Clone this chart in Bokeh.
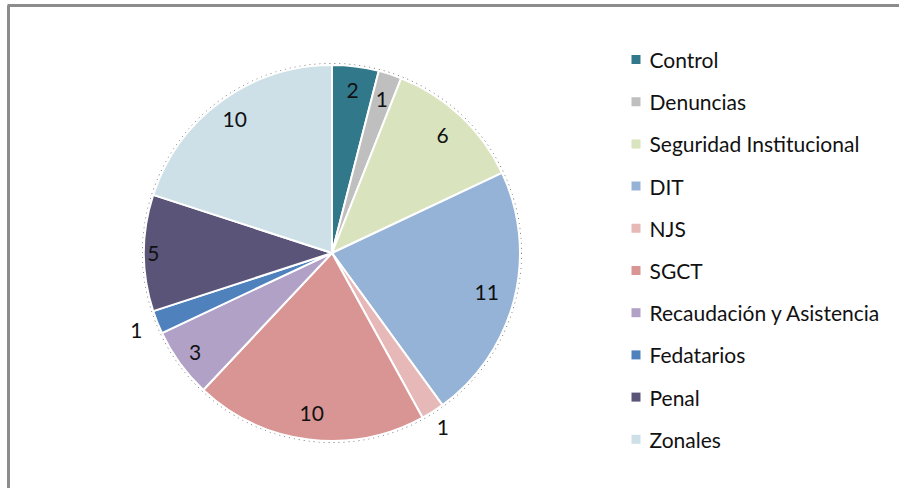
import numpy as np
from bokeh.plotting import figure
from bokeh.models import Range1d, ColumnDataSource
from bokeh.core.properties import value
from bokeh.embed import file_html
from bokeh.resources import INLINE

categories = ["Control", "Denuncias", "Seguridad Institucional", "DIT", "NJS",
              "SGCT", "Recaudación y Asistencia", "Fedatarios", "Penal", "Zonales"]
counts = [2, 1, 6, 11, 1, 10, 3, 1, 5, 10]
colors = ["#31788A", "#BFBFBF", "#D9E4BF", "#95B3D7", "#E6B9B8",
          "#D99594", "#B2A1C7", "#4F81BD", "#5A5478", "#CDE0E8"]
# label distance from centre, as a fraction of the radius (Excel "best fit")
label_r = [0.87, 0.86, 0.86, 0.85, 1.10, 0.86, 0.90, 1.12, 0.95, 0.88]

W, H = 899, 488
# page coordinates: x = px, y = H - py
CX, CY, R = 331.5, H - 252.5, 188
FONT = "Lato"

vals = np.array(counts, dtype=float)
frac = vals / vals.sum()
cum = np.concatenate([[0], np.cumsum(frac)])
start = np.pi / 2 - cum[:-1] * 2 * np.pi
end = np.pi / 2 - cum[1:] * 2 * np.pi
mid = (start + end) / 2
lx = CX + np.array(label_r) * R * np.cos(mid)
ly = CY + np.array(label_r) * R * np.sin(mid)

src = ColumnDataSource(dict(cat=categories, n=counts, color=colors,
                            start=start, end=end, lx=lx, ly=ly,
                            txt=[str(c) for c in counts]))

p = figure(width=W, height=H, x_range=Range1d(0, W), y_range=Range1d(0, H),
           output_backend="svg", toolbar_location=None, min_border=0,
           background_fill_color="white", border_fill_color="white")
p.axis.visible = False
p.grid.visible = False
p.outline_line_color = None

# dotted shadow ring
p.circle(x=CX, y=CY, radius=R + 1.5, fill_color=None, line_color="#222222",
         line_width=1, line_dash="1 4", line_alpha=0.7)

p.wedge(x=CX, y=CY, radius=R, start_angle="start", end_angle="end",
        direction="clock", fill_color="color", line_color="white",
        line_width=2, source=src)

p.text(x="lx", y="ly", text="txt", source=src, text_align="center",
       text_baseline="middle", text_font=value(FONT), text_font_size="21px",
       text_color="#111111")

# legend
LEG_X, LEG_TOP, LEG_STEP = 635.5, H - 59, 42.2
idx = np.arange(len(categories))
leg = ColumnDataSource(dict(x=[LEG_X] * len(categories),
                            tx=[LEG_X + 13.5] * len(categories),
                            y=LEG_TOP - idx * LEG_STEP,
                            color=colors, cat=categories))
p.rect(x="x", y="y", width=9, height=9, fill_color="color", line_color=None, source=leg)
p.text(x="tx", y="y", text="cat", source=leg, text_baseline="middle",
       text_font=value(FONT), text_font_size="21px", text_color="#111111")

# chart frame (top and left edges visible)
p.segment(x0=[7, 8], y0=[H - 5, 0], x1=[W, 8], y1=[H - 5, H - 5],
          line_color="#8C8C8C", line_width=3)

open("out.html", "w").write(file_html(p, INLINE))
